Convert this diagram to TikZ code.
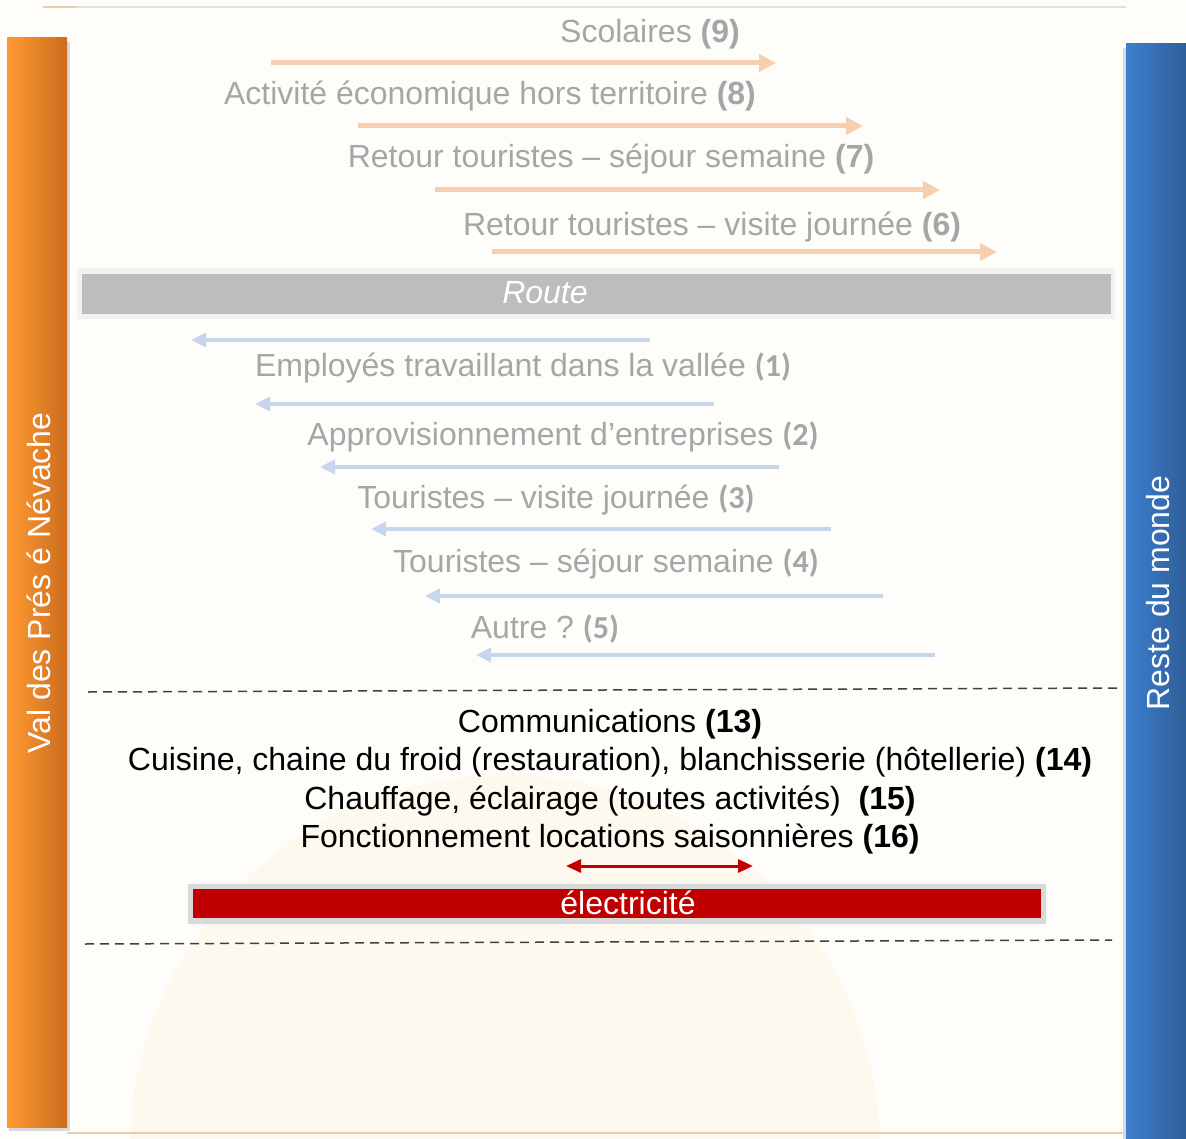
\documentclass[tikz,border=0pt]{standalone}
\usepackage{fontspec}
\setmainfont{Liberation Sans}
\newfontfamily\calfont{Carlito}
\usetikzlibrary{arrows.meta}
\frenchspacing
\definecolor{bgc}{HTML}{FEFDFA}
\definecolor{cream}{HTML}{FDF9EE}
\definecolor{peach}{HTML}{F6CFB0}
\definecolor{lblue}{HTML}{C6D6EC}
\definecolor{txtgray}{HTML}{A6A6A6}
\definecolor{roadgray}{HTML}{BDBDBD}
\definecolor{elred}{HTML}{C00000}
\definecolor{orA}{HTML}{FF9A33}
\definecolor{orB}{HTML}{CC6D1E}
\definecolor{blA}{HTML}{3D7FD0}
\definecolor{blB}{HTML}{2F5E98}
\definecolor{beige}{HTML}{E3CDB3}
\tikzset{
  x=1pt,y=-1pt,
  graytxt/.style={text=txtgray,font=\fontsize{32}{34}\selectfont,inner sep=0pt,anchor=center},
  blacktxt/.style={text=black,font=\fontsize{32}{34}\selectfont,inner sep=0pt,anchor=center},
  bartxt/.style={text=white,font=\fontsize{32}{34}\selectfont,inner sep=0pt},
  outarrow/.style={draw=peach,line width=5pt,-{Triangle[length=17pt,width=17pt]}},
  inarrow/.style={draw=lblue,line width=4pt,-{Triangle[length=15pt,width=14pt]}},
  dashline/.style={draw=black!75,line width=1.5pt,dash pattern=on 9pt off 6pt},
}
\begin{document}
\begin{tikzpicture}
\useasboundingbox (0,0) rectangle (1186,1139);
\fill[bgc] (0,0) rectangle (1186,1139);
% faint background sun
\begin{scope}
\clip (0,0) rectangle (1186,1139);
\fill[cream] (505,1150) circle[radius=375];
\end{scope}
% frame lines
\draw[black!12,line width=1.5pt] (77,7) -- (1126,7);
\draw[beige,line width=1.5pt] (43,7) -- (77,7);
\draw[beige,line width=2pt] (67,1133) -- (1126,1133);
% left bar
\fill[black!15] (9,42) rectangle (70,1131);
\shade[left color=orA,right color=orB] (7,38) rectangle (67,1127);
\node[bartxt,rotate=90] (left) at (39,583) {Val des Prés é Névache};
% right bar
\fill[black!15] (1123,48) rectangle (1186,1139);
\shade[left color=blA,right color=blB] (1126,44) rectangle (1186,1139);
\node[bartxt,rotate=90] (right) at (1158,593) {Reste du monde};
% route
\fill[black!5] (77,268) rectangle (1115,319);
\fill[roadgray] (82,274) rectangle (1111,314);
\node[bartxt,font=\fontsize{32}{34}\selectfont\itshape] (route) at (545,293) {Route};
% outgoing flows
\node[graytxt] (t9) at (650,34) {Scolaires \textbf{(9)}};
\node[graytxt] (t8) at (490,96) {Activité économique hors territoire \textbf{(8)}};
\node[graytxt] (t7) at (611,159) {Retour touristes – séjour semaine \textbf{(7)}};
\node[graytxt] (t6) at (712,227) {Retour touristes – visite journée \textbf{(6)}};
\coordinate (a9s) at (271,63);  \coordinate (a9e) at (776,63);
\coordinate (a8s) at (358,126); \coordinate (a8e) at (863,126);
\coordinate (a7s) at (435,190); \coordinate (a7e) at (940,190);
\coordinate (a6s) at (492,252); \coordinate (a6e) at (997,252);
\draw[outarrow] (a9s) -- (a9e);
\draw[outarrow] (a8s) -- (a8e);
\draw[outarrow] (a7s) -- (a7e);
\draw[outarrow] (a6s) -- (a6e);
% incoming flows
\node[graytxt] (t1) at (523,368) {Employés travaillant dans la vallée {\calfont\bfseries(1)}};
\node[graytxt] (t2) at (563,437) {Approvisionnement d’entreprises {\calfont\bfseries(2)}};
\node[graytxt] (t3) at (556,500) {Touristes – visite journée {\calfont\bfseries(3)}};
\node[graytxt] (t4) at (606,564) {Touristes – séjour semaine {\calfont\bfseries(4)}};
\node[graytxt] (t5) at (545,629) {Autre ? {\calfont\bfseries(5)}};
\coordinate (b0s) at (650,340); \coordinate (b0e) at (191,340);
\coordinate (b1s) at (714,404); \coordinate (b1e) at (255,404);
\coordinate (b2s) at (779,467); \coordinate (b2e) at (320,467);
\coordinate (b3s) at (831,529); \coordinate (b3e) at (371,529);
\coordinate (b4s) at (883,596); \coordinate (b4e) at (425,596);
\coordinate (b5s) at (935,655); \coordinate (b5e) at (476,655);
\draw[inarrow] (b0s) -- (b0e);
\draw[inarrow] (b1s) -- (b1e);
\draw[inarrow] (b2s) -- (b2e);
\draw[inarrow] (b3s) -- (b3e);
\draw[inarrow] (b4s) -- (b4e);
\draw[inarrow] (b5s) -- (b5e);
% dashed separators
\coordinate (d1s) at (88,692);  \coordinate (d1e) at (1120,688);
\coordinate (d2s) at (85,944);  \coordinate (d2e) at (1112,940);
\draw[dashline] (d1s) -- (d1e);
\draw[dashline] (d2s) -- (d2e);
% electricity uses
\node[blacktxt] (t13) at (610,724) {Communications \textbf{(13)}};
\node[blacktxt] (t14) at (610,762) {Cuisine, chaine du froid (restauration), blanchisserie (hôtellerie) \textbf{(14)}};
\node[blacktxt] (t15) at (610,801) {Chauffage, éclairage (toutes activités)\ \ \textbf{(15)}};
\node[blacktxt] (t16) at (610,839) {Fonctionnement locations saisonnières \textbf{(16)}};
\coordinate (es) at (566,866); \coordinate (ee) at (753,866);
\draw[elred,line width=3pt,{Triangle[length=15pt,width=13pt]}-{Triangle[length=15pt,width=13pt]}] (es) -- (ee);
% electricity bar
\fill[black!15] (188,884) rectangle (1046,924);
\fill[elred] (193,889) rectangle (1041,918);
\node[bartxt] (elec) at (628,903) {électricité};
\end{tikzpicture}
\end{document}
